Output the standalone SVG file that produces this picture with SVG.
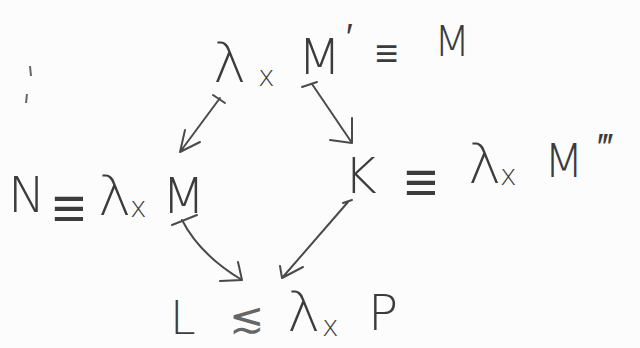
<svg xmlns="http://www.w3.org/2000/svg" width="640" height="348" viewBox="0 0 640 348">
<style>
text{font-family:"DejaVu Sans","Liberation Sans",sans-serif;font-weight:200;fill:#3c3c3c}
.big{font-size:50px}
.lam{font-size:56px}
.sub{font-size:28px}
.eq{font-size:58px}
.c path{fill:none;stroke:#4a4a4a;stroke-width:2;stroke-linecap:round;stroke-linejoin:round}
</style>
<rect width="640" height="348" fill="#fcfcfc"/>
<path d="M30 66 L31 76 M27 94 L26 103" stroke="#666" stroke-width="2" fill="none"/>
<g id="top">
<text class="lam" x="213" y="82">λ</text>
<text class="sub" x="258" y="86">x</text>
<text class="big" x="298" y="74">M</text>
<text style="font-size:36px" x="346" y="50">′</text>
<text style="font-size:40px" x="375" y="67">≡</text>
<text style="font-size:42px" x="434" y="56">M</text>
</g>
<g id="N">
<text class="big" x="8" y="212">N</text>
<text class="eq" x="52" y="228">≡</text>
<text class="lam" x="98" y="215">λ</text>
<text class="sub" x="130" y="217">x</text>
<text class="big" x="162" y="213">M</text>
</g>
<g id="K">
<text class="big" x="344" y="193">K</text>
<text class="eq" x="404" y="202">≡</text>
<text class="lam" x="468" y="183">λ</text>
<text class="sub" x="500" y="185">x</text>
<text style="font-size:46px" x="544" y="177">M</text>
<text style="font-size:36px" x="600" y="160">‴</text>
</g>
<g id="L">
<text style="font-size:46px" x="170" y="334">L</text>
<text style="font-size:42px;font-weight:400;fill:#666" x="229" y="332">≲</text>
<text class="lam" x="287" y="331">λ</text>
<text class="sub" x="322" y="336">x</text>
<text class="big" x="368" y="330">P</text>
</g>
<g class="c" id="connectors">
<path d="M213 95 L225 103 M220 98 L180 152 M185 130 L180 152 L200 142"/>
<path d="M302 87 L317 82 M312 84 L352 143 M352 118 L352 143 L330 140"/>
<path d="M172 225 L197 215 M182 220 Q200 255 242 280 M238 262 L242 280 L220 281"/>
<path d="M343 203 L352 200 M348 202 L282 278 M280 266 L282 278 L303 267"/>
</g>
</svg>
